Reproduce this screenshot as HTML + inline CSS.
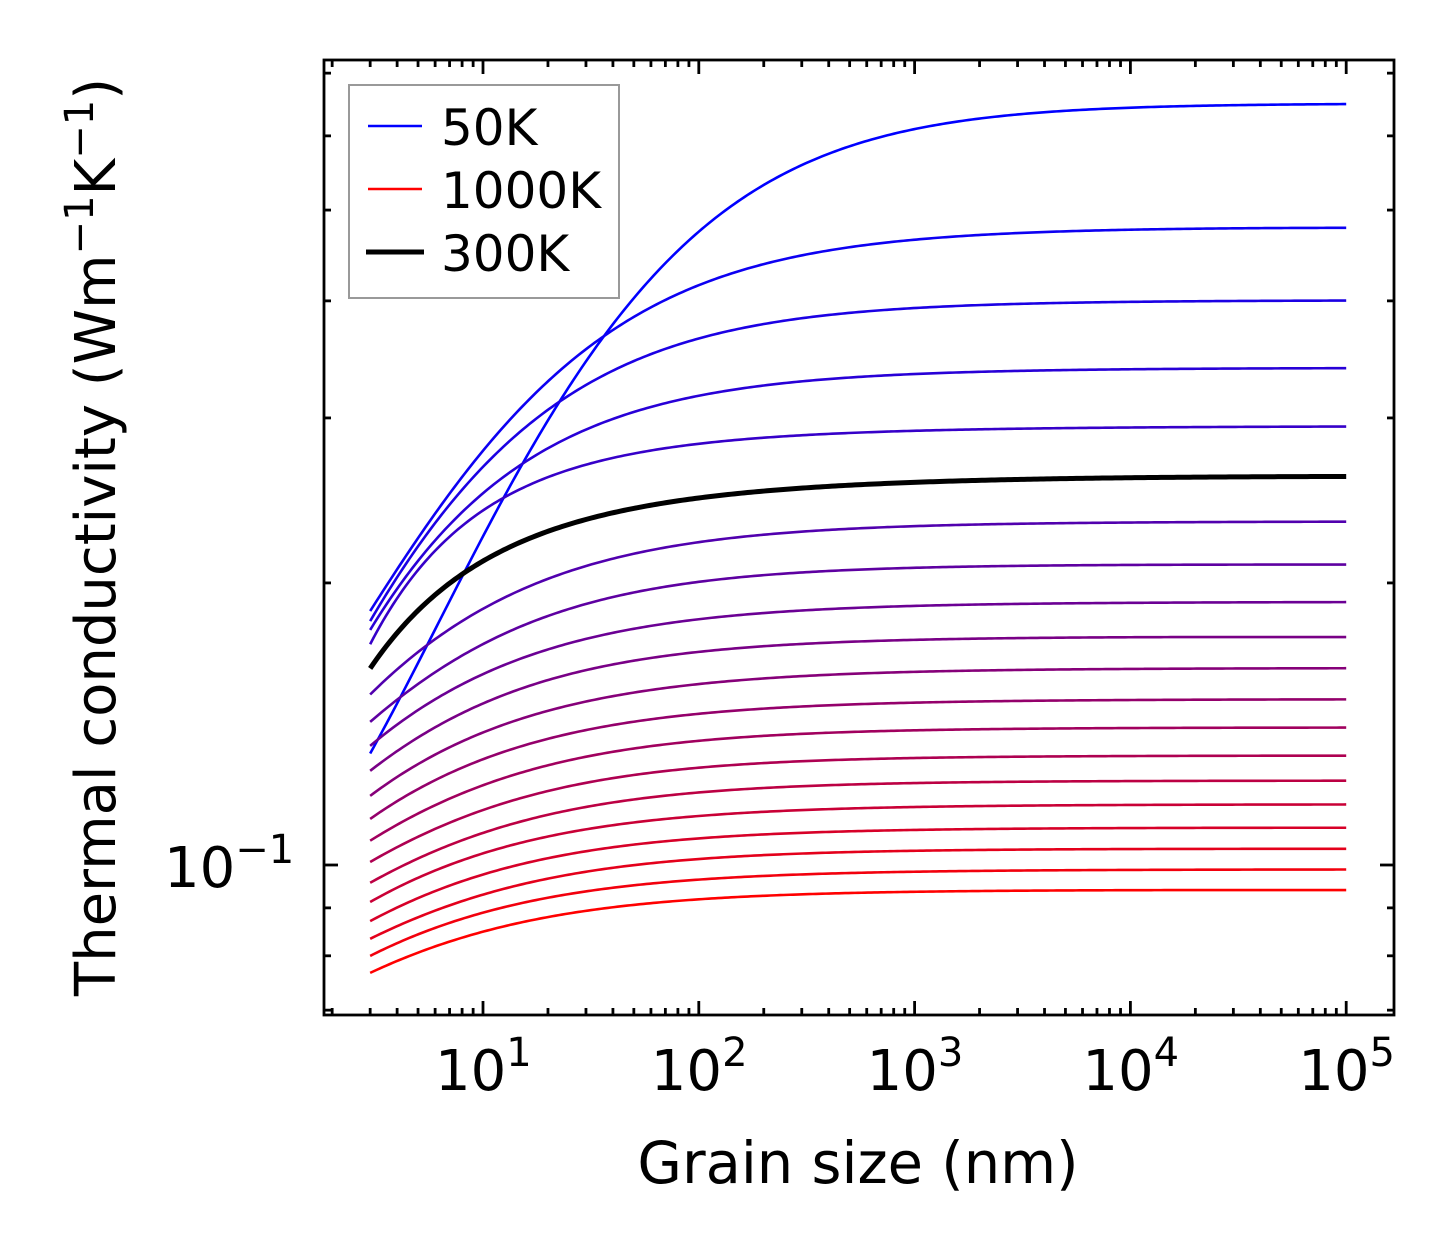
<!DOCTYPE html>
<html><head><meta charset="utf-8"><style>
html,body{margin:0;padding:0;background:#fff;}
svg{display:block;font-family:"DejaVu Sans","Liberation Sans",sans-serif;}
</style></head><body>
<svg id="chart" width="1454" height="1254" viewBox="0 0 1454 1254" xmlns="http://www.w3.org/2000/svg">
<rect x="0" y="0" width="1454" height="1254" fill="#fff"/>
<g id="curves"></g>
<g id="ticks"></g>
<rect x="324" y="60" width="1070" height="955" fill="none" stroke="#000" stroke-width="2.8"/>
<g id="xlabels"></g>
<text x="164" y="887" font-size="56">10<tspan dy="-24" font-size="40">−1</tspan></text>
<text x="858" y="1183" font-size="57.5" text-anchor="middle">Grain size (nm)</text>
<text transform="translate(115,537) rotate(-90)" font-size="56" text-anchor="middle">Thermal conductivity (Wm<tspan dy="-22" font-size="40">−1</tspan><tspan dy="22">K</tspan><tspan dy="-22" font-size="40">−1</tspan><tspan dy="22">)</tspan></text>
<g>
<rect x="349" y="85" width="270" height="213" fill="#fff" stroke="#999" stroke-width="2"/>
<line x1="368" y1="126" x2="422" y2="126" stroke="#0000ff" stroke-width="2.5"/>
<text x="441" y="145" font-size="50">50K</text>
<line x1="368" y1="189" x2="422" y2="189" stroke="#ff0000" stroke-width="2.5"/>
<text x="441" y="208" font-size="50">1000K</text>
<line x1="366" y1="252" x2="424" y2="252" stroke="#000" stroke-width="5"/>
<text x="441" y="271" font-size="50">300K</text>
</g>
</svg>
<script>
const grainSizes = [3, 10, 30, 100, 300, 1000, 10000, 100000];
const k50 = [0.132, 0.220, 0.359, 0.465, 0.552, 0.613, 0.644, 0.650];
const k2 = [0.187, 0.274, 0.362, 0.414, 0.446, 0.462, 0.477, 0.482];
const k3 = [0.182, 0.267, 0.323, 0.366, 0.384, 0.393, 0.399, 0.401];
const k4 = [0.178, 0.251, 0.289, 0.316, 0.329, 0.335, 0.338, 0.340];
const k5 = [0.172, 0.239, 0.269, 0.279, 0.288, 0.291, 0.293, 0.294];
const k300 = [0.162, 0.212, 0.232, 0.247, 0.253, 0.256, 0.259, 0.260];
const k7 = [0.152, 0.188, 0.208, 0.221, 0.227, 0.230, 0.232, 0.233];
const k8 = [0.142, 0.173, 0.189, 0.200, 0.205, 0.208, 0.209, 0.210];
const k9 = [0.134, 0.160, 0.174, 0.183, 0.187, 0.189, 0.191, 0.191];
const k10 = [0.126, 0.149, 0.161, 0.169, 0.172, 0.174, 0.175, 0.176];
const k11 = [0.1185, 0.1387, 0.1489, 0.1564, 0.1591, 0.1607, 0.1619, 0.1623];
const k12 = [0.1120, 0.1297, 0.1390, 0.1453, 0.1478, 0.1489, 0.1500, 0.1504];
const k13 = [0.1061, 0.1220, 0.1301, 0.1356, 0.1380, 0.1393, 0.1400, 0.1404];
const k14 = [0.1007, 0.1148, 0.1220, 0.1269, 0.1291, 0.1301, 0.1307, 0.1310];
const k15 = [0.0957, 0.1084, 0.1150, 0.1196, 0.1214, 0.1223, 0.1229, 0.1232];
const k16 = [0.0913, 0.1030, 0.1090, 0.1128, 0.1145, 0.1153, 0.1159, 0.1162];
const k17 = [0.0871, 0.0978, 0.1032, 0.1069, 0.1082, 0.1090, 0.1095, 0.1098];
const k18 = [0.0834, 0.0931, 0.0981, 0.1015, 0.1030, 0.1035, 0.1040, 0.1043];
const k19 = [0.0800, 0.0889, 0.0936, 0.0966, 0.0978, 0.0983, 0.0988, 0.0990];
const k1000 = [0.0767, 0.0850, 0.0891, 0.0920, 0.0931, 0.0936, 0.0940, 0.0943];
const seriesNames = ['50K','t2','t3','t4','t5','300K','t7','t8','t9','t10','t11','t12','t13','t14','t15','t16','t17','t18','t19','1000K'];
const xTickLabels = ['1','2','3','4','5'];

const allSeries = [k50,k2,k3,k4,k5,k300,k7,k8,k9,k10,k11,k12,k13,k14,k15,k16,k17,k18,k19,k1000];
const NS = 'http://www.w3.org/2000/svg';
function xPos(v){ return 483 + (Math.log10(v) - 1) * 215.8; }
function yPos(v){ return 865 - (Math.log10(v) + 1) * 937; }

// weighted polynomial least squares (smooth drawing through the read values)
function polyfit(xs, ys, ws, deg){
  const n = deg+1, A = [], b = [];
  for (let i=0;i<n;i++){ A.push(new Array(n).fill(0)); b.push(0); }
  for (let k=0;k<xs.length;k++){
    for (let i=0;i<n;i++){
      for (let j=0;j<n;j++) A[i][j] += ws[k]*Math.pow(xs[k],i+j);
      b[i] += ws[k]*ys[k]*Math.pow(xs[k],i);
    }
  }
  for (let i=0;i<n;i++){
    let p=i; for (let r=i+1;r<n;r++) if (Math.abs(A[r][i])>Math.abs(A[p][i])) p=r;
    [A[i],A[p]]=[A[p],A[i]]; [b[i],b[p]]=[b[p],b[i]];
    for (let r=i+1;r<n;r++){ const f=A[r][i]/A[i][i]; for (let c=i;c<n;c++) A[r][c]-=f*A[i][c]; b[r]-=f*b[i]; }
  }
  const c = new Array(n).fill(0);
  for (let i=n-1;i>=0;i--){ let s=b[i]; for (let j=i+1;j<n;j++) s-=A[i][j]*c[j]; c[i]=s/A[i][i]; }
  return function(x){ let s=0; for (let i=0;i<n;i++) s+=c[i]*Math.pow(x,i); return s; };
}

const cg = document.getElementById('curves');
const lx = grainSizes.map(v=>Math.log10(v));
const order = [];
for (let i=0;i<allSeries.length;i++) if (i!==5) order.push(i);
order.push(5);
order.forEach(function(si){
  const s = allSeries[si];
  const kinf = s[s.length-1];
  const fx=[], fy=[], fw=[];
  for (let i=0;i<s.length-1;i++){
    const r = Math.log(kinf/s[i]);
    if (r>0){ fx.push(lx[i]); fy.push(Math.log(r)); fw.push(r*r+0.002); }
  }
  const g = polyfit(fx, fy, fw, Math.min(3, fx.length-1));
  const pts = [];
  const a = lx[0], b = lx[lx.length-1];
  let gPrev = Infinity;
  for (let j=0;j<=300;j++){
    const L = a + (b-a)*j/300;
    let gv = Math.min(g(L), gPrev); gPrev = gv;
    const k = kinf*Math.exp(-Math.exp(gv));
    pts.push(xPos(Math.pow(10,L)).toFixed(2)+','+yPos(k).toFixed(2));
  }
  const p = document.createElementNS(NS,'polyline');
  p.setAttribute('points', pts.join(' '));
  p.setAttribute('fill','none');
  const t = si/(allSeries.length-1);
  const col = si===5 ? '#000' : 'rgb('+Math.round(255*t)+',0,'+Math.round(255*(1-t))+')';
  p.setAttribute('stroke', col);
  p.setAttribute('stroke-width', si===5 ? '5' : '2.6');
  
  
  cg.appendChild(p);
});

const tg = document.getElementById('ticks');
function tick(x1,y1,x2,y2,name){
  const l = document.createElementNS(NS,'line');
  l.setAttribute('x1',x1); l.setAttribute('y1',y1); l.setAttribute('x2',x2); l.setAttribute('y2',y2);
  l.setAttribute('stroke','#000'); l.setAttribute('stroke-width','2.8');
  
  
  tg.appendChild(l);
}
for (let e=0;e<=5;e++){
  for (let m=1;m<=9;m++){
    const v = m*Math.pow(10,e);
    const x = xPos(v);
    if (x<326 || x>1392) continue;
    const len = m===1 ? 14 : 7;
    tick(x,1015,x,1015-len,'x-tick');
    tick(x,60,x,60+len,'x-tick-top');
  }
}
for (let e=-2;e<=0;e++){
  for (let m=1;m<=9;m++){
    const v = m*Math.pow(10,e);
    const y = yPos(v);
    if (y<62 || y>1013) continue;
    const len = m===1 ? 14 : 7;
    tick(324,y,324+len,y,'y-tick');
    tick(1394,y,1394-len,y,'y-tick-right');
  }
}
const xl = document.getElementById('xlabels');
xTickLabels.forEach(function(lab){
  const x = xPos(Math.pow(10, +lab));
  const t = document.createElementNS(NS,'text');
  t.setAttribute('x', x - 48);
  t.setAttribute('y', 1090);
  t.setAttribute('font-size','56');
  
  
  t.innerHTML = '10<tspan dy="-24" font-size="40">' + lab + '</tspan>';
  xl.appendChild(t);
});
</script>
</body></html>
